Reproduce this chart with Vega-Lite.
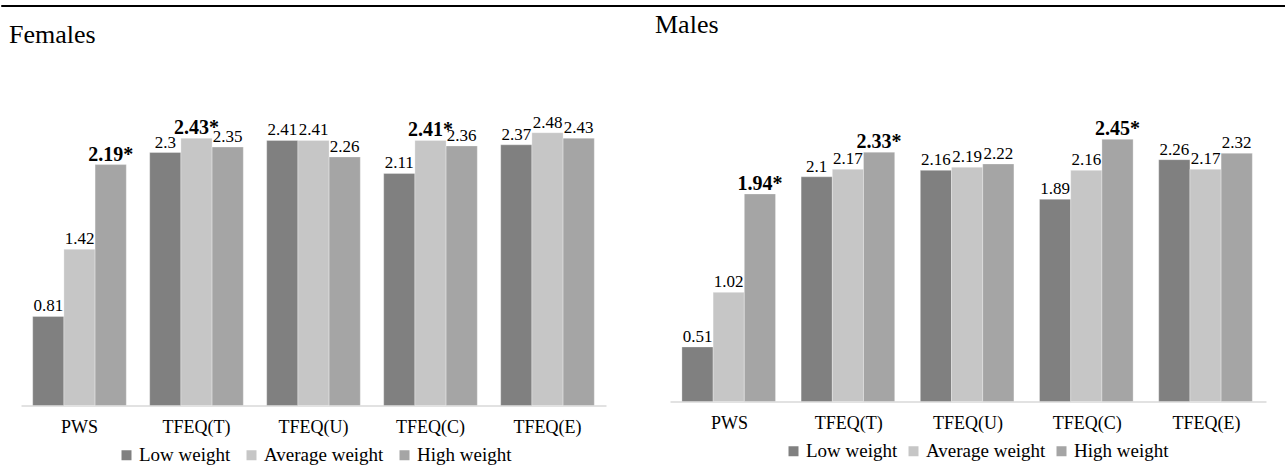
{
  "$schema": "https://vega.github.io/schema/vega-lite/v6.json",
  "padding": {"left": 0, "top": 2, "right": 0, "bottom": 0},
  "background": "white",
  "bounds": "flush",
  "spacing": 91.5,
  "config": {"view": {"stroke": null}, "font": "Liberation Serif"},
  "datasets": {
    "females": [
      {"measure": "PWS", "group": "Low weight", "value": 0.81, "label": "0.81", "sig": false},
      {"measure": "PWS", "group": "Average weight", "value": 1.42, "label": "1.42", "sig": false},
      {"measure": "PWS", "group": "High weight", "value": 2.19, "label": "2.19*", "sig": true},
      {"measure": "TFEQ(T)", "group": "Low weight", "value": 2.3, "label": "2.3", "sig": false},
      {"measure": "TFEQ(T)", "group": "Average weight", "value": 2.43, "label": "2.43*", "sig": true},
      {"measure": "TFEQ(T)", "group": "High weight", "value": 2.35, "label": "2.35", "sig": false},
      {"measure": "TFEQ(U)", "group": "Low weight", "value": 2.41, "label": "2.41", "sig": false},
      {"measure": "TFEQ(U)", "group": "Average weight", "value": 2.41, "label": "2.41", "sig": false},
      {"measure": "TFEQ(U)", "group": "High weight", "value": 2.26, "label": "2.26", "sig": false},
      {"measure": "TFEQ(C)", "group": "Low weight", "value": 2.11, "label": "2.11", "sig": false},
      {"measure": "TFEQ(C)", "group": "Average weight", "value": 2.41, "label": "2.41*", "sig": true},
      {"measure": "TFEQ(C)", "group": "High weight", "value": 2.36, "label": "2.36", "sig": false},
      {"measure": "TFEQ(E)", "group": "Low weight", "value": 2.37, "label": "2.37", "sig": false},
      {"measure": "TFEQ(E)", "group": "Average weight", "value": 2.48, "label": "2.48", "sig": false},
      {"measure": "TFEQ(E)", "group": "High weight", "value": 2.43, "label": "2.43", "sig": false}
    ],
    "males": [
      {"measure": "PWS", "group": "Low weight", "value": 0.51, "label": "0.51", "sig": false},
      {"measure": "PWS", "group": "Average weight", "value": 1.02, "label": "1.02", "sig": false},
      {"measure": "PWS", "group": "High weight", "value": 1.94, "label": "1.94*", "sig": true},
      {"measure": "TFEQ(T)", "group": "Low weight", "value": 2.1, "label": "2.1", "sig": false},
      {"measure": "TFEQ(T)", "group": "Average weight", "value": 2.17, "label": "2.17", "sig": false},
      {"measure": "TFEQ(T)", "group": "High weight", "value": 2.33, "label": "2.33*", "sig": true},
      {"measure": "TFEQ(U)", "group": "Low weight", "value": 2.16, "label": "2.16", "sig": false},
      {"measure": "TFEQ(U)", "group": "Average weight", "value": 2.19, "label": "2.19", "sig": false},
      {"measure": "TFEQ(U)", "group": "High weight", "value": 2.22, "label": "2.22", "sig": false},
      {"measure": "TFEQ(C)", "group": "Low weight", "value": 1.89, "label": "1.89", "sig": false},
      {"measure": "TFEQ(C)", "group": "Average weight", "value": 2.16, "label": "2.16", "sig": false},
      {"measure": "TFEQ(C)", "group": "High weight", "value": 2.45, "label": "2.45*", "sig": true},
      {"measure": "TFEQ(E)", "group": "Low weight", "value": 2.26, "label": "2.26", "sig": false},
      {"measure": "TFEQ(E)", "group": "Average weight", "value": 2.17, "label": "2.17", "sig": false},
      {"measure": "TFEQ(E)", "group": "High weight", "value": 2.32, "label": "2.32", "sig": false}
    ]
  },
  "vconcat": [
    {
      "width": 1285,
      "height": 1,
      "data": {"values": [{}]},
      "mark": {"type": "point", "opacity": 0},
      "encoding": {},
      "view": {"stroke": "#000000", "strokeWidth": 1}
    },
    {
      "hconcat": [
        {
          "width": 20,
          "height": 1,
          "data": {"values": [{}]},
          "mark": {"type": "point", "opacity": 0},
          "encoding": {}
        },
        {
          "hconcat": [
            {
              "width": 585,
              "height": 308,
              "data": {"name": "females"},
              "title": {"text": "Females", "anchor": "start", "fontSize": 26, "font": "Liberation Serif", "fontWeight": "normal", "color": "#000000", "offset": 50, "dx": -12},
              "encoding": {
                "x": {"field": "measure", "type": "nominal", "sort": ["PWS", "TFEQ(T)", "TFEQ(U)", "TFEQ(C)", "TFEQ(E)"], "scale": {"paddingInner": 0.2, "paddingOuter": 0.1},
                  "axis": {"title": null, "labelAngle": 0, "ticks": false, "labelPadding": 13, "labelFontSize": 18, "labelFont": "Liberation Serif", "labelColor": "#000000", "domainColor": "#d9d9d9", "domainWidth": 1.5}},
                "xOffset": {"field": "group", "type": "nominal", "sort": ["Low weight", "Average weight", "High weight"], "scale": {"paddingInner": 0, "paddingOuter": 0}},
                "y": {"field": "value", "type": "quantitative", "scale": {"domain": [0, 2.8], "nice": false}, "axis": null}
              },
              "layer": [
                {
                  "mark": {"type": "bar", "stroke": "#ffffff", "strokeWidth": 0.5, "strokeOpacity": 0.6},
                  "encoding": {
                    "color": {"field": "group", "type": "nominal", "sort": ["Low weight", "Average weight", "High weight"],
                      "scale": {"domain": ["Low weight", "Average weight", "High weight"], "range": ["#808080", "#c6c6c6", "#a5a5a5"]},
                      "legend": {"title": null, "orient": "none", "legendX": 96, "legendY": 348, "direction": "horizontal", "symbolType": "square", "symbolSize": 100, "symbolStrokeWidth": 0, "labelFontSize": 19, "labelFont": "Liberation Serif", "labelColor": "#000000", "columnPadding": 11, "labelOffset": 3}}
                  }
                },
                {
                  "transform": [{"filter": "!datum.sig"}],
                  "mark": {"type": "text", "baseline": "alphabetic", "dy": -5, "fontSize": 17, "font": "Liberation Serif", "color": "#000000"},
                  "encoding": {"text": {"field": "label", "type": "nominal"}}
                },
                {
                  "transform": [{"filter": "datum.sig"}],
                  "mark": {"type": "text", "baseline": "alphabetic", "dy": -4, "fontSize": 20, "fontWeight": "bold", "font": "Liberation Serif", "color": "#000000"},
                  "encoding": {"text": {"field": "label", "type": "nominal"}}
                }
              ]
            },
            {
              "width": 596,
              "height": 304,
              "data": {"name": "males"},
              "title": {"text": "Males", "anchor": "start", "fontSize": 26, "font": "Liberation Serif", "fontWeight": "normal", "color": "#000000", "offset": 60, "dx": -15},
              "encoding": {
                "x": {"field": "measure", "type": "nominal", "sort": ["PWS", "TFEQ(T)", "TFEQ(U)", "TFEQ(C)", "TFEQ(E)"], "scale": {"paddingInner": 0.2, "paddingOuter": 0.1},
                  "axis": {"title": null, "labelAngle": 0, "ticks": false, "labelPadding": 13, "labelFontSize": 18, "labelFont": "Liberation Serif", "labelColor": "#000000", "domainColor": "#d9d9d9", "domainWidth": 1.5}},
                "xOffset": {"field": "group", "type": "nominal", "sort": ["Low weight", "Average weight", "High weight"], "scale": {"paddingInner": 0, "paddingOuter": 0}},
                "y": {"field": "value", "type": "quantitative", "scale": {"domain": [0, 2.841], "nice": false}, "axis": null}
              },
              "layer": [
                {
                  "mark": {"type": "bar", "stroke": "#ffffff", "strokeWidth": 0.5, "strokeOpacity": 0.6},
                  "encoding": {
                    "color": {"field": "group", "type": "nominal", "sort": ["Low weight", "Average weight", "High weight"],
                      "scale": {"domain": ["Low weight", "Average weight", "High weight"], "range": ["#808080", "#c6c6c6", "#a5a5a5"]},
                      "legend": {"title": null, "orient": "none", "legendX": 114, "legendY": 344, "direction": "horizontal", "symbolType": "square", "symbolSize": 100, "symbolStrokeWidth": 0, "labelFontSize": 19, "labelFont": "Liberation Serif", "labelColor": "#000000", "columnPadding": 6, "labelOffset": 3}}
                  }
                },
                {
                  "transform": [{"filter": "!datum.sig"}],
                  "mark": {"type": "text", "baseline": "alphabetic", "dy": -5, "fontSize": 17, "font": "Liberation Serif", "color": "#000000"},
                  "encoding": {"text": {"field": "label", "type": "nominal"}}
                },
                {
                  "transform": [{"filter": "datum.sig"}],
                  "mark": {"type": "text", "baseline": "alphabetic", "dy": -4, "fontSize": 20, "fontWeight": "bold", "font": "Liberation Serif", "color": "#000000"},
                  "encoding": {"text": {"field": "label", "type": "nominal"}}
                }
              ]
            }
          ],
          "spacing": 64,
          "bounds": "flush",
          "resolve": {"scale": {"color": "independent"}, "legend": {"color": "independent"}}
        }
      ],
      "spacing": 0,
      "bounds": "flush"
    }
  ]
}
